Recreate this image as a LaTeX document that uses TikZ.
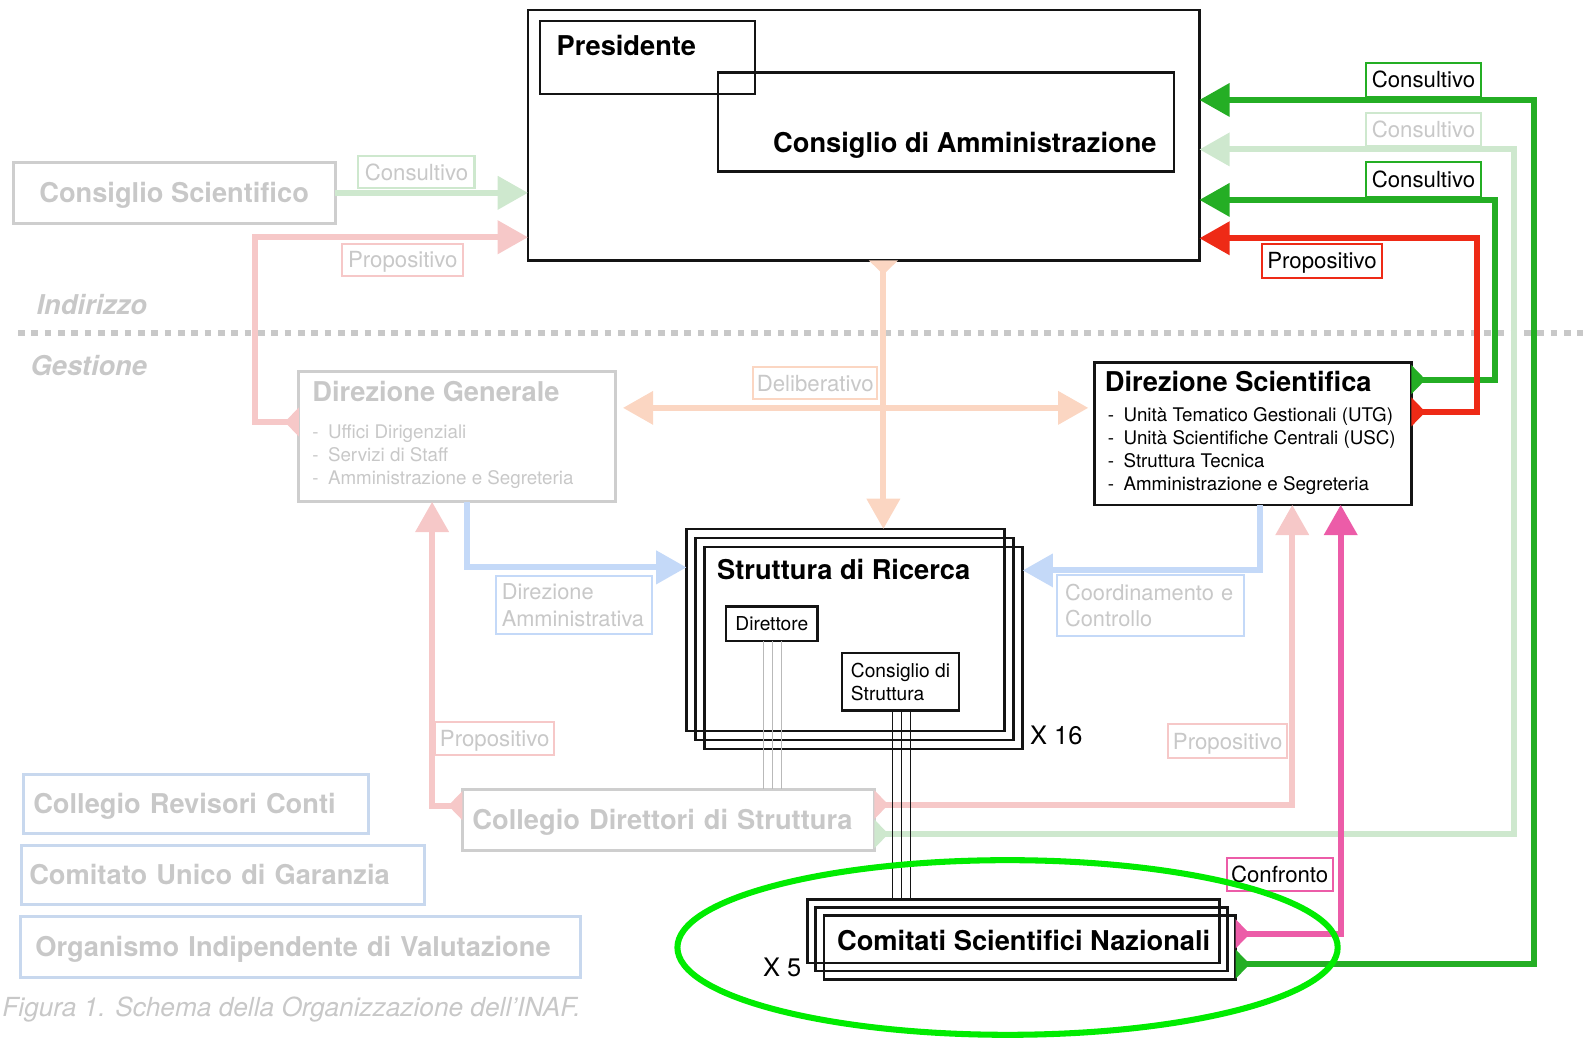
\documentclass[tikz,border=0pt]{standalone}
\usepackage{fontspec}
\setmainfont{TeX Gyre Heros}
\usetikzlibrary{arrows.meta}

\definecolor{ink}{RGB}{20,20,20}
\definecolor{fadetext}{RGB}{200,200,200}
\definecolor{fadebox}{RGB}{206,206,206}
\definecolor{fadeblue}{RGB}{200,216,238}
\definecolor{wiregray}{RGB}{185,185,185}
\definecolor{paleblue}{RGB}{196,217,248}
\definecolor{palegreen}{RGB}{206,232,206}
\definecolor{palepink}{RGB}{246,200,200}
\definecolor{peach}{RGB}{251,214,194}
\definecolor{deepgreen}{RGB}{36,174,36}
\definecolor{flame}{RGB}{238,42,22}
\definecolor{rosepink}{RGB}{236,92,168}
\definecolor{ringgreen}{RGB}{0,236,0}

\tikzset{
  blackbox/.style = {draw=ink, line width=1.25pt, inner sep=0pt, outer sep=0pt},
  fadedbox/.style = {draw=fadebox, line width=1.5pt, inner sep=0pt, outer sep=0pt, text=fadetext,
                     font=\fontsize{13.5}{16}\selectfont\bfseries, text height=9.7pt, text depth=0pt},
  listbox/.style  = {draw=#1, line width=1.5pt, inner ysep=0pt, outer sep=0pt, text=fadetext, align=left,
                     font=\fontsize{13.5}{16}\selectfont\bfseries, text height=9.7pt, text depth=0pt},
  boxtitle/.style = {font=\fontsize{13.5}{16}\selectfont\bfseries, inner sep=0pt},
  boxitems/.style = {font=\fontsize{9.3}{11.5}\selectfont, align=left, inner sep=0pt},
  smallbox/.style = {blackbox, font=\fontsize{9.5}{11.5}\selectfont, align=left},
  flowtag/.style  = {draw=#1, line width=1pt, fill=white, inner sep=0pt, outer sep=0pt,
                     font=\fontsize{11}{13}\selectfont, text height=7.9pt, text depth=0pt},
  flownote/.style = {draw=#1, line width=1pt, fill=white, outer sep=0pt, inner ysep=1pt, align=left,
                     font=\fontsize{10.8}{13}\selectfont, text=fadetext},
  conn/.style     = {line width=3pt, draw=#1, -{Triangle[length=15pt,width=16pt]}},
  tailconn/.style = {conn=#1, {Triangle[reversed,length=7pt,width=14pt]}-{Triangle[length=15pt,width=16pt]}},
  thinwire/.style = {line width=0.5pt, draw=#1},
  sidetext/.style = {font=\fontsize{13.5}{16}\selectfont\bfseries\itshape, text=fadetext, inner sep=0pt},
  sepline/.style  = {draw=fadetext, line width=3pt, dash pattern=on 3.3pt off 3.3pt},
}

\begin{document}
\begin{tikzpicture}[x=0.5pt, y=-0.5pt]
\useasboundingbox (0,0) rectangle (1568,1028);

% livelli
\draw[sepline] (18,330) -- (1568,330);
\node[sidetext] (indirizzo) at (91,302) {Indirizzo};
\node[sidetext] (gestione) at (88,362) {Gestione};

% organi di indirizzo
\node[blackbox, minimum width=332.5pt, minimum height=124pt] (board) at (855.5,134) {};
\node[blackbox, minimum width=106.5pt, minimum height=36pt] (pres) at (641.5,57) {};
\node[blackbox, minimum width=226pt, minimum height=49pt] (cda) at (937,121) {};
\node[boxtitle, anchor=base west] (prestext) at (551,55) {Presidente};
\node[boxtitle, anchor=base east] (cdatext) at (1146,151) {Consiglio di Amministrazione};
\node[fadedbox, minimum width=159.5pt, minimum height=30pt] (cs) at (172.5,191) {Consiglio Scientifico};

% direzioni
\node[fadedbox, minimum width=157pt, minimum height=64.5pt] (dg) at (453,432.5) {};
\node[boxtitle, text=fadetext, anchor=base west] (dgtitle) at (309,398) {Direzione Generale};
\node[boxitems, text=fadetext, anchor=north west] (dglist) at (309,420)
  {-\enspace Uffici Dirigenziali\\-\enspace Servizi di Staff\\-\enspace Amministrazione e Segreteria};
\node[blackbox, minimum width=157pt, minimum height=70.5pt] (ds) at (1241,429.5) {};
\node[boxtitle, anchor=base west] (dstitle) at (1094,388) {Direzione Scientifica};
\node[boxitems, anchor=north west] (dslist) at (1097,403)
  {-\enspace Unità Tematico Gestionali (UTG)\\-\enspace Unità Scientifiche Centrali (USC)\\-\enspace Struttura Tecnica\\-\enspace Amministrazione e Segreteria};

% strutture
\foreach \k in {0,1,2}
  \node[blackbox, minimum width=157.5pt, minimum height=100pt] (sr\k) at (837.5+9*\k, 624+9*\k) {};
\node[boxtitle, anchor=base west] (srtitle) at (710,574) {Struttura di Ricerca};
\node[smallbox, minimum width=45.5pt, minimum height=17pt] (dir) at (764.5,618) {Direttore};
\node[smallbox, minimum width=58pt, minimum height=28.5pt] (cdst) at (892,675.5) {Consiglio di\\Struttura};
\node[font=\fontsize{12.6}{15}\selectfont, inner sep=0pt, anchor=base west] (times16) at (1020,737) {X 16};

\node[listbox=fadebox, inner xsep=5pt, text width=194pt, minimum height=30pt] (cd) at (662,812) {Collegio Direttori di Struttura};
\foreach \k in {0,1,2}
  \node[blackbox, minimum width=204pt, minimum height=31.5pt] (csn\k) at (1004+8*\k, 922.5+8*\k) {};
\node[boxtitle, anchor=base] (csntext) at (1014,941) {Comitati Scientifici Nazionali};
\node[font=\fontsize{12.6}{15}\selectfont, inner sep=0pt, anchor=base east] (times5) at (794,967) {X 5};

% organi di controllo
\node[listbox=fadeblue, inner xsep=5pt, text width=161pt, minimum height=29.5pt] (crc) at (194,796.5) {Collegio Revisori Conti};
\node[listbox=fadeblue, inner xsep=4pt, text width=191.5pt, minimum height=29.5pt] (cug) at (220.5,866.5) {Comitato Unico di Garanzia};
\node[listbox=fadeblue, inner xsep=7.5pt, text width=262.5pt, minimum height=30pt] (oiv) at (297.5,938) {Organismo Indipendente di Valutazione};

% collegamenti sbiaditi
\draw[conn=palegreen] (cs.east) -- (board.west |- cs.east);
\draw[tailconn=palepink] (dg.west |- 0,418) -| (253,235) -- (board.west |- 0,235);
\draw[tailconn=peach] (board.south -| 875,0) -- (sr0.north -| 875,0);
\draw[conn=peach, {Triangle[length=15pt,width=16pt]}-{Triangle[length=15pt,width=16pt]}, shorten <=3.5pt, shorten >=3pt]
  (dg.east |- 0,404) -- (ds.west |- 0,404);
\draw[conn=paleblue] (dg.south -| 463,0) |- (sr0.west |- 0,562);
\draw[conn=paleblue] (ds.south -| 1248,0) |- (sr2.east |- 0,565);
\draw[tailconn=palepink] (cd.west |- 0,798) -| (dg.south -| 428,0);
\draw[tailconn=palepink] (cd.east |- 0,797) -| (ds.south -| 1280,0);
\draw[tailconn=palegreen] (cd.east |- 0,826) -| (1500,148) -- (board.east |- 0,148);

% collegamenti attivi
\draw[tailconn=rosepink] (csn2.east |- 0,925) -| (ds.south -| 1328,0);
\draw[tailconn=deepgreen] (csn2.east |- 0,955) -| (1519,99) -- (board.east |- 0,99);
\draw[tailconn=deepgreen] (ds.east |- 0,376) -| (1481,198) -- (board.east |- 0,198);
\draw[tailconn=flame] (ds.east |- 0,408) -| (1463,236) -- (board.east |- 0,236);

% fili
\foreach \x in {756,765,774}
  \draw[thinwire=wiregray] (dir.south -| \x,0) -- (cd.north -| \x,0);
\foreach \x in {884,893,902}
  \draw[thinwire=ink] (cdst.south -| \x,0) -- (csn0.north -| \x,0);

% etichette
\node[flowtag=palegreen, text=fadetext, minimum width=57.5pt, minimum height=15.5pt] (tagcs) at (412.5,170.5) {Consultivo};
\node[flowtag=palepink, text=fadetext, minimum width=60pt, minimum height=15.5pt] (tagprop1) at (399,257.5) {Propositivo};
\node[flowtag=deepgreen, minimum width=57pt, minimum height=17pt] (tagcons1) at (1410,79) {Consultivo};
\node[flowtag=palegreen, text=fadetext, minimum width=57pt, minimum height=16.5pt] (tagcons2) at (1410,128.5) {Consultivo};
\node[flowtag=deepgreen, minimum width=57pt, minimum height=17.5pt] (tagcons3) at (1410,177.5) {Consultivo};
\node[flowtag=flame, minimum width=59.5pt, minimum height=16.5pt] (tagprop2) at (1309.5,258.5) {Propositivo};
\node[flowtag=peach, text=fadetext, minimum width=61.5pt, minimum height=15.5pt] (tagdel) at (807.5,379.5) {Deliberativo};
\node[flownote=paleblue, inner xsep=3pt, text width=71.5pt, minimum height=28.5pt] (tagdiram) at (568.5,599.5) {Direzione\\Amministrativa};
\node[flownote=paleblue, inner xsep=4pt, text width=84.5pt, minimum height=30pt] (tagcoord) at (1139.5,600) {Coordinamento e\\Controllo};
\node[flowtag=palepink, text=fadetext, minimum width=59pt, minimum height=16.5pt] (tagprop3) at (490,731.5) {Propositivo};
\node[flowtag=palepink, text=fadetext, minimum width=59pt, minimum height=17pt] (tagprop4) at (1216,734) {Propositivo};
\node[flowtag=rosepink, minimum width=52.5pt, minimum height=16.5pt] (tagconf) at (1267.5,866.5) {Confronto};

% evidenza
\draw[ringgreen, line width=3pt] (998,938.5) ellipse [x radius=163.5pt, y radius=43.25pt];

\node[font=\fontsize{13}{15}\selectfont\itshape, text=fadetext, inner sep=0pt, anchor=base west] (caption) at (2,1007)
  {Figura 1. Schema della Organizzazione dell'INAF.};
\end{tikzpicture}
\end{document}
